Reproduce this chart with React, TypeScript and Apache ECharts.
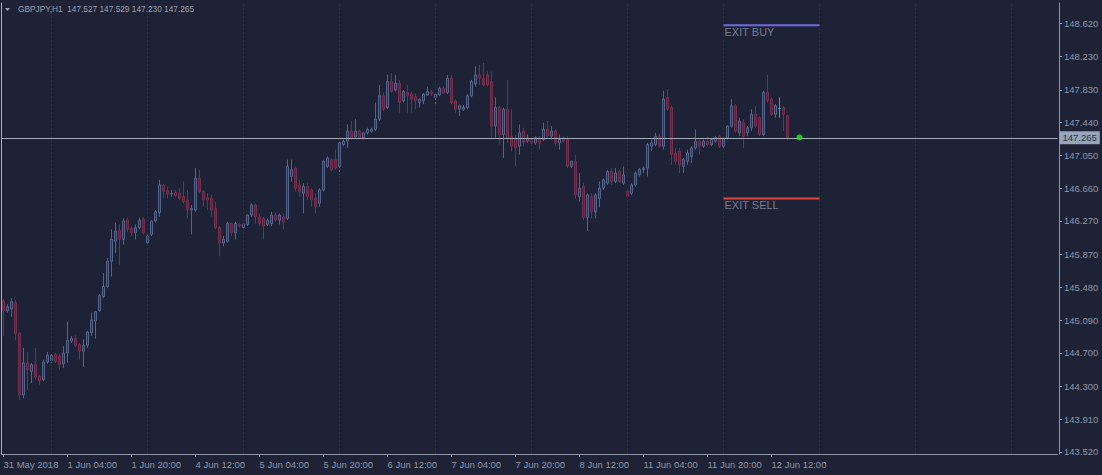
import React, { useEffect, useRef } from "react";
import * as echarts from "echarts";

// ---- data ----
const symbolTitle = "GBPJPY,H1  147.527 147.529 147.230 147.265";
// [open, high, low, close] per H1 bar, from 31 May 2018 12:00
const ohlc: [number, number, number, number][] = [
  [145.32, 145.34, 144.9, 145.2], [145.2, 145.28, 145.18, 145.25], [145.22, 145.35, 145.13, 145.31], [145.3, 145.33, 144.85, 144.93],
  [144.93, 144.95, 144.14, 144.2], [144.2, 144.76, 144.16, 144.58], [144.58, 144.71, 144.26, 144.5], [144.48, 144.58, 144.34, 144.56],
  [144.56, 144.76, 144.38, 144.41], [144.42, 144.44, 144.32, 144.37], [144.38, 144.62, 144.36, 144.59], [144.59, 144.71, 144.57, 144.67],
  [144.61, 144.69, 144.58, 144.67], [144.68, 144.7, 144.58, 144.6], [144.66, 144.69, 144.5, 144.56], [144.57, 144.78, 144.52, 144.7],
  [144.7, 145.07, 144.58, 144.85], [144.84, 144.9, 144.82, 144.87], [144.87, 144.91, 144.77, 144.79], [144.8, 144.82, 144.62, 144.72],
  [144.72, 144.86, 144.53, 144.79], [144.79, 144.96, 144.76, 144.95], [144.94, 145.18, 144.9, 145.09], [145.08, 145.2, 144.87, 145.19],
  [145.2, 145.4, 145.19, 145.38], [145.37, 145.65, 145.35, 145.49], [145.49, 145.83, 145.47, 145.79], [145.79, 146.17, 145.61, 146.05],
  [146.03, 146.25, 145.89, 146.15], [146.16, 146.23, 145.75, 146.05], [146.05, 146.3, 145.99, 146.27], [146.28, 146.31, 146.14, 146.17],
  [146.18, 146.21, 146.09, 146.13], [146.13, 146.23, 146.05, 146.19], [146.19, 146.31, 146.17, 146.28], [146.29, 146.32, 146.11, 146.13],
  [146.01, 146.11, 146.0, 146.09], [146.11, 146.28, 146.09, 146.27], [146.27, 146.4, 146.25, 146.38], [146.37, 146.76, 146.32, 146.7],
  [146.7, 146.71, 146.54, 146.62], [146.63, 146.68, 146.54, 146.59], [146.59, 146.64, 146.56, 146.6], [146.61, 146.64, 146.55, 146.57],
  [146.6, 146.66, 146.52, 146.54], [146.56, 146.74, 146.48, 146.5], [146.52, 146.64, 146.3, 146.4], [146.4, 146.46, 146.11, 146.42],
  [146.4, 146.9, 146.38, 146.78], [146.78, 146.88, 146.6, 146.62], [146.62, 146.64, 146.44, 146.52], [146.55, 146.6, 146.4, 146.52],
  [146.54, 146.58, 146.32, 146.4], [146.42, 146.5, 146.17, 146.19], [146.19, 146.21, 145.85, 146.01], [146.01, 146.09, 145.97, 146.05],
  [146.03, 146.26, 146.01, 146.24], [146.24, 146.25, 146.09, 146.13], [146.13, 146.26, 146.05, 146.24], [146.23, 146.25, 146.19, 146.21],
  [146.19, 146.24, 146.17, 146.23], [146.23, 146.35, 146.21, 146.34], [146.34, 146.48, 146.32, 146.46], [146.46, 146.48, 146.24, 146.32],
  [146.32, 146.36, 146.21, 146.24], [146.3, 146.32, 146.05, 146.21], [146.23, 146.3, 146.21, 146.28], [146.24, 146.38, 146.21, 146.34],
  [146.34, 146.37, 146.26, 146.28], [146.28, 146.36, 146.23, 146.34], [146.32, 146.36, 146.17, 146.26], [146.3, 147.0, 146.28, 146.92],
  [146.8, 147.0, 146.74, 146.88], [146.9, 146.92, 146.62, 146.66], [146.7, 146.76, 146.56, 146.62], [146.6, 146.72, 146.36, 146.68],
  [146.68, 146.72, 146.52, 146.56], [146.64, 146.66, 146.44, 146.52], [146.54, 146.6, 146.36, 146.44], [146.48, 146.66, 146.44, 146.64],
  [146.64, 147.0, 146.62, 146.98], [146.92, 147.04, 146.9, 147.02], [147.0, 147.02, 146.86, 146.88], [147.0, 147.12, 146.88, 146.9],
  [146.92, 147.22, 146.82, 147.2], [147.18, 147.24, 147.16, 147.22], [147.22, 147.42, 147.14, 147.34], [147.34, 147.46, 147.24, 147.26],
  [147.27, 147.48, 147.26, 147.34], [147.34, 147.36, 147.24, 147.26], [147.26, 147.33, 147.24, 147.32], [147.32, 147.38, 147.3, 147.36],
  [147.34, 147.38, 147.32, 147.36], [147.36, 147.68, 147.34, 147.48], [147.48, 147.89, 147.46, 147.76], [147.76, 147.8, 147.58, 147.6],
  [147.62, 148.01, 147.6, 147.93], [147.93, 148.03, 147.8, 147.81], [147.83, 148.01, 147.81, 147.91], [147.91, 147.95, 147.56, 147.68],
  [147.7, 147.83, 147.68, 147.81], [147.8, 147.89, 147.56, 147.76], [147.78, 147.81, 147.56, 147.72], [147.75, 147.79, 147.6, 147.7],
  [147.68, 147.73, 147.62, 147.72], [147.7, 147.79, 147.66, 147.78], [147.77, 147.87, 147.76, 147.81], [147.81, 147.83, 147.76, 147.78],
  [147.74, 147.8, 147.64, 147.78], [147.77, 147.87, 147.76, 147.85], [147.85, 147.87, 147.78, 147.79], [147.8, 148.01, 147.78, 147.97],
  [147.97, 148.01, 147.66, 147.68], [147.7, 147.72, 147.56, 147.6], [147.6, 147.66, 147.52, 147.64], [147.6, 147.65, 147.58, 147.62],
  [147.62, 147.78, 147.6, 147.76], [147.76, 147.95, 147.74, 147.93], [147.9, 148.11, 147.87, 148.01], [148.01, 148.13, 147.89, 147.97],
  [147.97, 148.15, 147.87, 147.89], [148.01, 148.05, 147.87, 147.89], [147.93, 148.05, 147.24, 147.4], [147.4, 147.74, 147.26, 147.62],
  [147.62, 147.64, 147.18, 147.3], [147.3, 147.62, 147.02, 147.6], [147.6, 147.95, 147.2, 147.26], [147.28, 147.6, 147.1, 147.16],
  [147.24, 147.3, 146.92, 147.14], [147.16, 147.42, 147.06, 147.32], [147.34, 147.38, 147.16, 147.2], [147.22, 147.3, 147.2, 147.26],
  [147.24, 147.26, 147.16, 147.2], [147.2, 147.28, 147.18, 147.26], [147.26, 147.28, 147.12, 147.2], [147.24, 147.44, 147.22, 147.36],
  [147.36, 147.46, 147.26, 147.28], [147.28, 147.4, 147.24, 147.34], [147.34, 147.36, 147.16, 147.2], [147.2, 147.3, 147.12, 147.24],
  [147.26, 147.28, 147.2, 147.22], [147.24, 147.28, 146.9, 146.92], [146.92, 146.99, 146.9, 146.98], [146.98, 147.06, 146.54, 146.58],
  [146.56, 146.84, 146.5, 146.66], [146.68, 146.72, 146.28, 146.31], [146.31, 146.6, 146.15, 146.58], [146.56, 146.6, 146.3, 146.38],
  [146.38, 146.6, 146.3, 146.58], [146.54, 146.74, 146.43, 146.66], [146.66, 146.78, 146.64, 146.76], [146.72, 146.88, 146.7, 146.86],
  [146.86, 146.9, 146.7, 146.74], [146.74, 146.9, 146.72, 146.84], [146.86, 146.88, 146.72, 146.74], [146.72, 146.92, 146.7, 146.82],
  [146.62, 146.64, 146.54, 146.56], [146.6, 146.72, 146.58, 146.7], [146.7, 146.86, 146.68, 146.84], [146.82, 146.9, 146.8, 146.88],
  [146.88, 146.92, 146.84, 146.9], [146.9, 147.2, 146.8, 147.18], [147.16, 147.24, 147.1, 147.2], [147.18, 147.32, 147.16, 147.28],
  [147.28, 147.31, 147.14, 147.16], [147.16, 147.82, 147.12, 147.72], [147.74, 147.84, 147.58, 147.6], [147.62, 147.64, 146.94, 147.06],
  [147.08, 147.14, 146.94, 146.98], [147.1, 147.14, 146.84, 146.94], [146.92, 147.02, 146.84, 147.0], [146.98, 147.12, 146.94, 147.08],
  [147.04, 147.16, 146.96, 147.14], [147.14, 147.36, 147.12, 147.22], [147.22, 147.24, 147.06, 147.16], [147.16, 147.24, 147.14, 147.22],
  [147.22, 147.28, 147.16, 147.18], [147.18, 147.25, 147.16, 147.24], [147.22, 147.28, 147.2, 147.26], [147.28, 147.3, 147.14, 147.16],
  [147.16, 147.28, 147.14, 147.26], [147.26, 147.41, 147.24, 147.4], [147.4, 147.72, 147.38, 147.64], [147.64, 147.66, 147.32, 147.34],
  [147.32, 147.5, 147.28, 147.46], [147.44, 147.48, 147.14, 147.28], [147.32, 147.4, 147.28, 147.38], [147.38, 147.6, 147.34, 147.54],
  [147.54, 147.64, 147.38, 147.4], [147.5, 147.52, 147.28, 147.3], [147.3, 147.82, 147.28, 147.8], [147.8, 148.01, 147.68, 147.7],
  [147.72, 147.74, 147.52, 147.54], [147.54, 147.66, 147.5, 147.64], [147.61, 147.74, 147.5, 147.61], [147.62, 147.64, 147.34, 147.54],
  [147.527, 147.529, 147.23, 147.265],
];
const highlightedBar = 194; // bar drawn in teal
const totalSlots = 264; // visible bar slots incl. empty future area
const xTickLabels = [
  "31 May 2018", "1 Jun 04:00", "1 Jun 20:00", "4 Jun 12:00", "5 Jun 04:00", "5 Jun 20:00", "6 Jun 12:00",
  "7 Jun 04:00", "7 Jun 20:00", "8 Jun 12:00", "11 Jun 04:00", "11 Jun 20:00", "12 Jun 12:00",
];
const barsPerLabel = 16;
const yTickValues = [143.52, 143.91, 144.3, 144.7, 145.09, 145.48, 145.87, 146.27, 146.66, 147.05, 147.44, 147.83, 148.23, 148.62];
const daySeparators = [12, 36, 60, 84, 108, 132, 156, 180, 204, 228, 252];
const currentPrice = 147.265;
const currentMarkerBar = 199;
const exitBuy = { label: "EXIT BUY", price: 148.6, from: 180, to: 204 };
const exitSell = { label: "EXIT SELL", price: 146.537, from: 180, to: 204 };

const BG = "#1e2236";
const AXIS = "#8e95a6";
const TEXT = "#8d96a9";
const FONT = "Liberation Sans, Arial, sans-serif";

export default function App() {
  const ref = useRef<HTMLDivElement>(null);
  useEffect(() => {
    document.body.style.margin = "0";
    const chart = echarts.init(ref.current!, null, { renderer: "svg" });
    const categories = Array.from({ length: totalSlots }, (_, i) => String(i));
    const candleData = ohlc.map(([o, h, l, c], i) => {
      const v = [o, c, l, h];
      if (i === highlightedBar) {
        return { value: v, itemStyle: { color: "#1a9c9c", color0: "#1a9c9c", borderColor: "#20b0b0", borderColor0: "#20b0b0" } };
      }
      return v;
    });
    const labelInterval = (i: number) => i % barsPerLabel === 0 && i / barsPerLabel < xTickLabels.length;
    const exitSeries = (e: typeof exitBuy, color: string) => [
      {
        type: "line",
        data: [[e.from, e.price], [e.to, e.price]],
        symbol: "none",
        lineStyle: { color, width: 2 },
        silent: true,
        z: 5,
      },
      {
        type: "scatter",
        data: [[e.from, e.price]],
        symbolSize: 0,
        silent: true,
        label: {
          show: true,
          formatter: e.label,
          position: [1, 1],
          align: "left",
          verticalAlign: "top",
          color: TEXT,
          fontSize: 11,
          fontFamily: FONT,
        },
      },
    ];
    chart.setOption({
      animation: false,
      backgroundColor: BG,
      title: {
        text: symbolTitle,
        left: 13,
        top: 0,
        textStyle: { color: "#9aa2b4", fontSize: 8.3, fontWeight: "normal", fontFamily: FONT },
      },
      graphic: [
        { type: "polygon", shape: { points: [[5, 8], [10, 8], [7.5, 11]] }, style: { fill: "#9aa2b4" } },
      ],
      grid: { left: 1.5, right: 44.5, top: 3, bottom: 21, show: false },
      xAxis: [
        {
          type: "category",
          data: categories,
          boundaryGap: true,
          axisLine: { show: true, lineStyle: { color: AXIS } },
          axisTick: { show: true, interval: labelInterval, alignWithLabel: true, length: 3, lineStyle: { color: AXIS } },
          axisLabel: {
            interval: labelInterval,
            formatter: (_v: string, i: number) => xTickLabels[i / barsPerLabel] ?? "",
            align: "left",
            margin: 5,
            color: TEXT,
            fontSize: 9.5,
            fontFamily: FONT,
          },
          splitLine: { show: false },
        },
      ],
      yAxis: [
        {
          type: "value",
          position: "right",
          min: 143.496,
          max: 148.865,
          offset: 1.5,
          axisLine: { show: true, lineStyle: { color: AXIS } },
          axisTick: { show: true, customValues: yTickValues, length: 3, lineStyle: { color: AXIS } },
          axisLabel: {
            customValues: yTickValues,
            formatter: (v: number) => v.toFixed(3),
            color: TEXT,
            fontSize: 9.5,
            fontFamily: FONT,
            margin: 5,
          },
          splitLine: { show: false },
        },
        {
          type: "value",
          position: "left",
          min: 143.496,
          max: 148.865,
          axisLine: { show: true, lineStyle: { color: "#a9aebb" } },
          axisTick: { show: false },
          axisLabel: { show: false },
          splitLine: { show: false },
        },
      ],
      series: [
        {
          type: "candlestick",
          data: candleData,
          barWidth: 2,
          itemStyle: {
            color: "#2a3250",
            color0: "#522641",
            borderColor: "#56658b",
            borderColor0: "#74304f",
            borderWidth: 1,
          },
          markLine: {
            silent: true,
            symbol: ["none", "none"],
            animation: false,
            data: [
              ...daySeparators.map((d) => ({
                xAxis: d,
                lineStyle: { color: "#282e47", type: [2, 2], width: 1 },
                label: { show: false },
              })),
              {
                yAxis: currentPrice,
                lineStyle: { color: "#a3a9b6", type: "solid", width: 1 },
                label: {
                  show: true,
                  position: "end",
                  formatter: currentPrice.toFixed(3),
                  backgroundColor: "#98a4b7",
                  color: "#2a3046",
                  padding: [2, 3, 1, 3],
                  fontSize: 9.5,
                  fontFamily: FONT,
                  distance: 2,
                },
              },
            ],
          },
        },
        ...exitSeries(exitBuy, "#6c6ce0"),
        ...exitSeries(exitSell, "#e0483f"),
        {
          type: "scatter",
          data: [[currentMarkerBar, currentPrice]],
          symbolSize: 6,
          itemStyle: { color: "#19f019" },
          silent: true,
          z: 10,
        },
      ],
    });
    return () => chart.dispose();
  }, []);
  return <div ref={ref} style={{ position: "fixed", left: 0, top: 0, width: 1102, height: 475 }} />;
}
